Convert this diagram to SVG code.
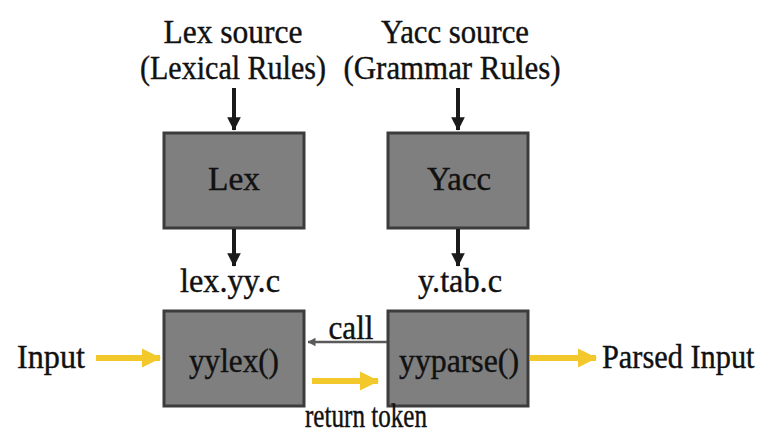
<svg xmlns="http://www.w3.org/2000/svg" width="763" height="434" viewBox="0 0 763 434">
  <style>
    .t { font-family: "Liberation Serif", "Times New Roman", serif; font-size: 33px; fill: #111; stroke: #111; stroke-width: 0.4; }
    .m { text-anchor: middle; }
    .box { fill: #7f7f7f; stroke: #3c3c3c; stroke-width: 3; }
    .blk { stroke: #1a1a1a; stroke-width: 4; fill: none; }
    .yel { stroke: #f2c82a; stroke-width: 6; fill: none; }
    .thin { stroke: #5a5a5a; stroke-width: 2.5; fill: none; }
  </style>
  <defs>
    <marker id="hBlk" markerWidth="4" markerHeight="4" refX="3.2" refY="2" orient="auto" markerUnits="strokeWidth">
      <path d="M0,0.3 L3.4,2 L0,3.7 Z" fill="#1a1a1a"/>
    </marker>
    <marker id="hYel" markerWidth="4" markerHeight="4" refX="3" refY="2" orient="auto" markerUnits="strokeWidth">
      <path d="M0,0.4 L3.2,2 L0,3.6 Z" fill="#f2c82a"/>
    </marker>
    <marker id="hThin" markerWidth="5" markerHeight="5" refX="3" refY="2.5" orient="auto" markerUnits="strokeWidth">
      <path d="M0,0.8 L3.2,2.5 L0,4.2 Z" fill="#5a5a5a"/>
    </marker>
  </defs>

  <rect width="763" height="434" fill="#ffffff"/>

  <!-- source labels -->
  <g id="lex-source">
    <text class="t m" x="233" y="43" textLength="139" lengthAdjust="spacingAndGlyphs">Lex source</text>
    <text class="t m" x="233" y="79" textLength="186" lengthAdjust="spacingAndGlyphs">(Lexical Rules)</text>
  </g>
  <g id="yacc-source">
    <text class="t m" x="455" y="43" textLength="148" lengthAdjust="spacingAndGlyphs">Yacc source</text>
    <text class="t m" x="452" y="79" textLength="217" lengthAdjust="spacingAndGlyphs">(Grammar Rules)</text>
  </g>

  <!-- generators -->
  <g id="lex">
    <rect class="box" x="164" y="133" width="140" height="95"/>
    <text class="t m" x="234" y="190" textLength="52" lengthAdjust="spacingAndGlyphs">Lex</text>
  </g>
  <g id="yacc">
    <rect class="box" x="388" y="133" width="140" height="95"/>
    <text class="t m" x="459" y="190" textLength="64" lengthAdjust="spacingAndGlyphs">Yacc</text>
  </g>

  <!-- generated files -->
  <g id="lex-yy-c">
    <text class="t m" x="230" y="292" textLength="100" lengthAdjust="spacingAndGlyphs">lex.yy.c</text>
  </g>
  <g id="y-tab-c">
    <text class="t m" x="460" y="292" textLength="84" lengthAdjust="spacingAndGlyphs">y.tab.c</text>
  </g>

  <!-- runtime functions -->
  <g id="yylex">
    <rect class="box" x="164" y="311" width="140" height="95"/>
    <text class="t m" x="234" y="372" textLength="90" lengthAdjust="spacingAndGlyphs">yylex()</text>
  </g>
  <g id="yyparse">
    <rect class="box" x="388" y="311" width="140" height="95"/>
    <text class="t m" x="459" y="372" textLength="120" lengthAdjust="spacingAndGlyphs">yyparse()</text>
  </g>

  <g id="input">
    <text class="t" x="17" y="368" textLength="68" lengthAdjust="spacingAndGlyphs">Input</text>
  </g>
  <g id="parsed-input">
    <text class="t" transform="translate(602,368) scale(0.92,1)" x="0" y="0">Parsed Input</text>
  </g>

  <!-- connectors -->
  <g id="connectors">
    <line class="blk" x1="234" y1="88" x2="234" y2="130" marker-end="url(#hBlk)"/>
    <line class="blk" x1="458" y1="88" x2="458" y2="130" marker-end="url(#hBlk)"/>
    <line class="blk" x1="234" y1="229" x2="234" y2="266" marker-end="url(#hBlk)"/>
    <line class="blk" x1="458" y1="229" x2="458" y2="266" marker-end="url(#hBlk)"/>

    <line class="yel" x1="96" y1="358" x2="160" y2="358" marker-end="url(#hYel)"/>
    <line class="yel" x1="530" y1="358" x2="596" y2="358" marker-end="url(#hYel)"/>
    <line class="yel" x1="312" y1="381" x2="378" y2="381" marker-end="url(#hYel)"/>

    <line class="thin" x1="387" y1="342" x2="308" y2="342" marker-end="url(#hThin)"/>
    <text class="t m" x="351" y="339" textLength="45" lengthAdjust="spacingAndGlyphs">call</text>
    <text class="t m" x="366" y="427" textLength="122" lengthAdjust="spacingAndGlyphs">return token</text>
  </g>
</svg>
